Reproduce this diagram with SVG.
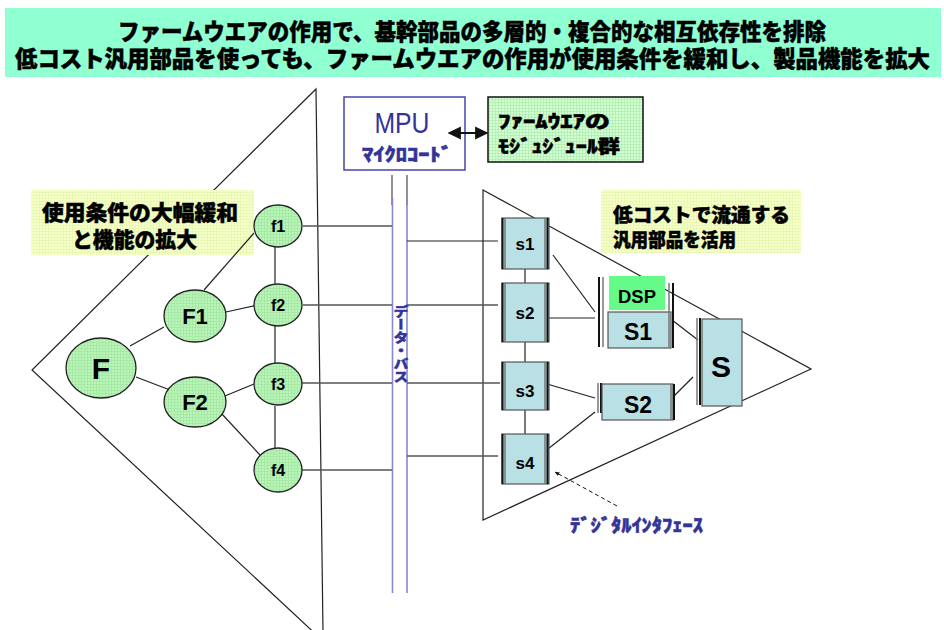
<svg xmlns="http://www.w3.org/2000/svg" width="944" height="630" viewBox="0 0 944 630">
<style>
.jp{font-family:"Noto Sans CJK JP","Noto Sans CJK SC",sans-serif;font-weight:900;stroke:#000;stroke-width:0.5}
.lat{font-family:"Liberation Sans",Arial,sans-serif;font-weight:bold}
.ln{stroke:#222;stroke-width:1.2;fill:none}
.gl{stroke:#555;stroke-width:1.4;fill:none}
.node{fill:url(#gGreen);stroke:#222;stroke-width:1.3}
.sbox{fill:#b9e0e4;stroke:#555;stroke-width:1.2}
.barb{stroke:#111;stroke-width:2}
.barg{stroke:#777;stroke-width:1.5}
.blue{fill:#333399;stroke:#333399}
</style>
<defs>
<pattern id="gGreen" width="3" height="3" patternUnits="userSpaceOnUse"><rect width="3" height="3" fill="#b9f4b9"/><path d="M0 0.5H3M0.5 0V3" stroke="#9ee29e" stroke-width="0.6"/></pattern>
<pattern id="gYellow" width="3" height="3" patternUnits="userSpaceOnUse"><rect width="3" height="3" fill="#f5ffc8"/><path d="M0 0.5H3M0.5 0V3" stroke="#e6f3ad" stroke-width="0.6"/></pattern>
<pattern id="gFw" width="3" height="3" patternUnits="userSpaceOnUse"><rect width="3" height="3" fill="#d2ffd2"/><path d="M0 0.5H3M0.5 0V3" stroke="#a9e8a9" stroke-width="0.6"/></pattern>
<marker id="ah" viewBox="0 0 10 10" refX="9" refY="5" markerWidth="6" markerHeight="6" orient="auto-start-reverse"><path d="M0 0L10 5L0 10z" fill="#111"/></marker>
<marker id="ahs" viewBox="0 0 10 10" refX="9" refY="5" markerWidth="5" markerHeight="5" orient="auto"><path d="M0 1L10 5L0 9z" fill="#111"/></marker>
</defs>
<rect width="944" height="630" fill="#fff"/>

<g id="title">
<rect x="5" y="8" width="936" height="69" fill="#90ffd2"/>
<text class="jp" x="118" y="40" font-size="23" textLength="708" lengthAdjust="spacingAndGlyphs">ファームウエアの作用で、基幹部品の多層的・複合的な相互依存性を排除</text>
<text class="jp" x="15" y="67" font-size="23" textLength="915" lengthAdjust="spacingAndGlyphs">低コスト汎用部品を使っても、ファームウエアの作用が使用条件を緩和し、製品機能を拡大</text>
</g>

<g id="left-triangle"><path class="ln" d="M323 632L316 89L32 370L322 640" stroke-width="1.3"/></g>
<g id="right-triangle"><path class="ln" d="M483 190L811 369L483 520Z" stroke-width="1.3"/></g>

<g id="note-left">
<rect x="31" y="190" width="223" height="65" fill="url(#gYellow)"/>
<text class="jp" x="42" y="220" font-size="21" textLength="196" lengthAdjust="spacingAndGlyphs">使用条件の大幅緩和</text>
<text class="jp" x="72" y="247" font-size="21" textLength="125" lengthAdjust="spacingAndGlyphs">と機能の拡大</text>
</g>

<g id="note-right">
<rect x="601" y="190" width="200" height="63" fill="url(#gYellow)"/>
<text class="jp" x="613" y="222" font-size="19" textLength="177" lengthAdjust="spacingAndGlyphs">低コストで流通する</text>
<text class="jp" x="613" y="247" font-size="19" textLength="123" lengthAdjust="spacingAndGlyphs">汎用部品を活用</text>
</g>

<g id="mpu">
<rect x="344" y="97" width="121" height="73" fill="#fff" stroke="#4444aa" stroke-width="1.5"/>
<text x="402" y="133" font-family="Liberation Sans,Arial,sans-serif" font-size="30" fill="#333399" text-anchor="middle" textLength="55" lengthAdjust="spacingAndGlyphs">MPU</text>
<text class="jp blue" x="362" y="161" font-size="18" textLength="90" lengthAdjust="spacingAndGlyphs">ﾏｲｸﾛｺｰﾄﾞ</text>
</g>

<g id="firmware">
<rect x="488" y="97" width="155" height="65" fill="url(#gFw)" stroke="#111" stroke-width="1.5"/>
<text class="jp" x="498" y="128" font-size="18" textLength="112" lengthAdjust="spacingAndGlyphs">ﾌｧｰﾑｳｴｱの</text>
<text class="jp" x="498" y="153" font-size="18" textLength="122" lengthAdjust="spacingAndGlyphs">ﾓｼﾞｭｼﾞｭｰﾙ群</text>
</g>

<g id="data-bus">
<line x1="392" y1="175" x2="392" y2="205" stroke="#777" stroke-width="1.6"/>
<line x1="407" y1="175" x2="407" y2="205" stroke="#777" stroke-width="1.6"/>
<line x1="392.5" y1="198" x2="392.5" y2="593" stroke="#8888cc" stroke-width="1.6"/>
<line x1="407" y1="198" x2="407" y2="593" stroke="#8888cc" stroke-width="1.6"/>
<text class="jp blue" x="401" y="305" font-size="15" writing-mode="tb" textLength="78" lengthAdjust="spacingAndGlyphs">データ・バス</text>
</g>

<g id="connectors">
<line class="ln" x1="130" y1="346" x2="164" y2="327"/>
<line class="ln" x1="136" y1="377" x2="170" y2="390"/>
<line class="ln" x1="204" y1="290" x2="254" y2="233"/>
<line class="ln" x1="226" y1="312" x2="262" y2="304"/>
<line class="ln" x1="220" y1="398" x2="254" y2="384"/>
<line class="ln" x1="221" y1="413" x2="260" y2="455"/>
<line class="ln" x1="275" y1="247" x2="275" y2="284"/>
<line class="ln" x1="275" y1="326" x2="275" y2="363"/>
<line class="ln" x1="275" y1="406" x2="275" y2="448"/>
<line class="gl" x1="303" y1="226" x2="392" y2="226"/>
<line class="gl" x1="303" y1="305" x2="392" y2="305"/>
<line class="gl" x1="302" y1="383" x2="392" y2="383"/>
<line class="gl" x1="302" y1="470" x2="392" y2="470"/>
<line class="ln" x1="407" y1="241" x2="498" y2="241"/>
<line class="gl" x1="407" y1="305" x2="498" y2="305"/>
<line class="gl" x1="407" y1="383" x2="500" y2="383"/>
<line class="gl" x1="407" y1="456" x2="498" y2="456"/>
<line class="ln" x1="525" y1="269" x2="525" y2="283"/>
<line class="ln" x1="525" y1="342" x2="525" y2="362"/>
<line class="ln" x1="525" y1="410" x2="525" y2="434"/>
<line class="ln" x1="553" y1="255" x2="595" y2="312"/>
<line class="ln" x1="548" y1="318" x2="595" y2="318"/>
<line class="ln" x1="547" y1="384" x2="595" y2="398"/>
<line class="ln" x1="539" y1="456" x2="595" y2="412"/>
<line class="ln" x1="672" y1="320" x2="698" y2="340"/>
<line class="ln" x1="673" y1="397" x2="693" y2="377"/>
<line x1="449" y1="133" x2="487" y2="133" stroke="#111" stroke-width="2.2" marker-start="url(#ah)" marker-end="url(#ah)"/>
<line x1="617" y1="506" x2="555" y2="472" stroke="#111" stroke-width="1" stroke-dasharray="4 3" marker-end="url(#ahs)"/>
</g>

<g id="F"><ellipse class="node" cx="101" cy="368" rx="35" ry="30"/><text class="lat" x="101" y="379" font-size="30" text-anchor="middle">F</text></g>
<g id="F1"><ellipse class="node" cx="195" cy="316" rx="31" ry="26"/><text class="lat" x="195" y="324" font-size="22" text-anchor="middle">F1</text></g>
<g id="F2"><ellipse class="node" cx="195" cy="402" rx="31" ry="25"/><text class="lat" x="195" y="410" font-size="22" text-anchor="middle">F2</text></g>
<g id="f1"><ellipse class="node" cx="278" cy="226" rx="24" ry="21"/><text class="lat" x="278" y="232" font-size="16" text-anchor="middle">f1</text></g>
<g id="f2"><ellipse class="node" cx="278" cy="305" rx="24" ry="21"/><text class="lat" x="278" y="311" font-size="16" text-anchor="middle">f2</text></g>
<g id="f3"><ellipse class="node" cx="278" cy="384" rx="24" ry="21"/><text class="lat" x="278" y="390" font-size="16" text-anchor="middle">f3</text></g>
<g id="f4"><ellipse class="node" cx="278" cy="470" rx="24" ry="22"/><text class="lat" x="278" y="476" font-size="16" text-anchor="middle">f4</text></g>

<g id="s1"><rect class="sbox" x="502" y="218" width="47" height="51"/><path class="barb" d="M502.5 218V269M547.5 218V269"/><path class="barg" d="M505 218V269M545 218V269"/><text class="lat" x="525" y="250" font-size="17" text-anchor="middle">s1</text></g>
<g id="s2"><rect class="sbox" x="502" y="283" width="47" height="59"/><path class="barb" d="M502.5 283V342M547.5 283V342"/><path class="barg" d="M505 283V342M545 283V342"/><text class="lat" x="525" y="319" font-size="17" text-anchor="middle">s2</text></g>
<g id="s3"><rect class="sbox" x="502" y="362" width="47" height="48"/><path class="barb" d="M502.5 362V410M547.5 362V410"/><path class="barg" d="M505 362V410M545 362V410"/><text class="lat" x="525" y="397" font-size="17" text-anchor="middle">s3</text></g>
<g id="s4"><rect class="sbox" x="502" y="434" width="47" height="50"/><path class="barb" d="M502.5 434V484M547.5 434V484"/><path class="barg" d="M505 434V484M545 434V484"/><text class="lat" x="525" y="469" font-size="17" text-anchor="middle">s4</text></g>

<g id="S1">
<path class="barb" d="M599 277V347"/><path class="barg" d="M603 277V347"/>
<rect x="609" y="276" width="56" height="34" fill="#66fa88"/>
<text class="lat" x="637" y="303" font-size="18" text-anchor="middle" textLength="38" lengthAdjust="spacingAndGlyphs">DSP</text>
<rect class="sbox" x="608" y="312" width="63" height="36"/>
<text class="lat" x="638" y="340" font-size="23" text-anchor="middle">S1</text>
<path class="barg" d="M669 283V348"/><path class="barb" d="M673 283V348"/>
</g>

<g id="S2">
<path class="barg" d="M598 383V413"/><path class="barb" d="M601 383V413"/>
<rect class="sbox" x="602" y="384" width="71" height="36"/>
<text class="lat" x="638" y="413" font-size="23" text-anchor="middle">S2</text>
<path class="barg" d="M671 384V420"/><path class="barb" d="M674 384V420"/>
</g>

<g id="S">
<path class="barg" d="M697 318V405"/><path class="barb" d="M700 318V405"/>
<rect class="sbox" x="702" y="319" width="40" height="87"/>
<text class="lat" x="721" y="377" font-size="30" text-anchor="middle">S</text>
</g>

<g id="digital-if">
<text class="jp blue" x="570" y="532" font-size="18" textLength="133" lengthAdjust="spacingAndGlyphs">ﾃﾞｼﾞﾀﾙｲﾝﾀﾌｪｰｽ</text>
</g>
</svg>
